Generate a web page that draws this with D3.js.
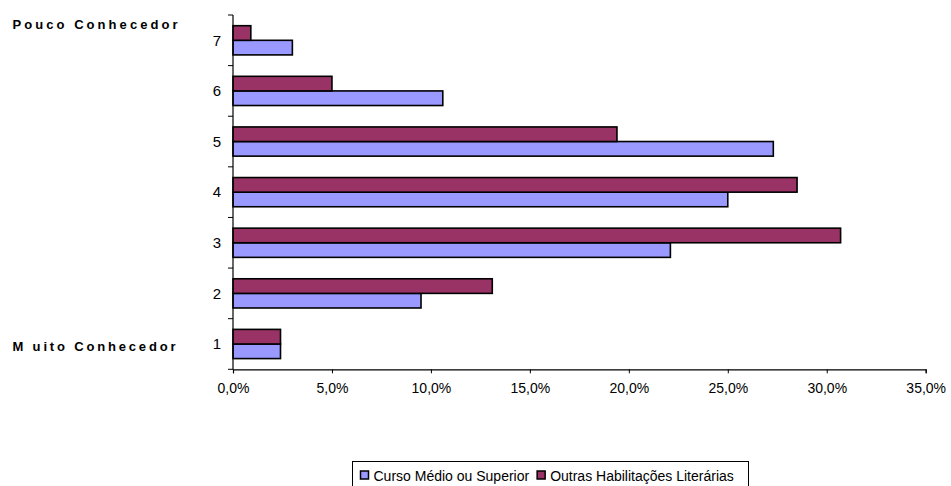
<!DOCTYPE html>
<html lang="pt">
<head>
    <meta charset="UTF-8">
    <title>Conhecimento por habilitações literárias</title>
    <script src="https://d3js.org/d3.v7.min.js" charset="utf-8"></script>
    <style>
        body { margin: 0; background: #fff; }
        svg { display: block; font-family: "Liberation Sans", Arial, sans-serif; }
    </style>
</head>
<body>
<div id="chart"></div>
<script>
    // Data
    var categories = ["1", "2", "3", "4", "5", "6", "7"];
    var seriesNames = ["Curso Médio ou Superior", "Outras Habilitações Literárias"];
    var cursoMedio = [2.4, 9.5, 22.1, 25.0, 27.3, 10.6, 3.0];
    var outras = [2.4, 13.1, 30.7, 28.5, 19.4, 5.0, 0.9];
    var xTicks = [0, 5, 10, 15, 20, 25, 30, 35];
    var colors = ["#9999FF", "#993366"];

    var width = 951, height = 486;

    var svg = d3.select("#chart")
        .append("svg")
        .attr("width", width)
        .attr("height", height);

    // Scales
    var x = d3.scaleLinear()
        .domain([0, 35])
        .range([233, 925.7]);

    var y = d3.scaleBand()
        .domain(categories)
        .range([369.3, 15])
        .padding(0);

    var barH = 14.6;

    // Table built from the arrays
    var rows = categories.map(function(c, i) {
        return { cat: c, values: [cursoMedio[i], outras[i]] };
    });

    // Bars (maroon on top, blue below, within each category)
    var groups = svg.selectAll("g.cat")
        .data(rows)
        .enter()
        .append("g")
        .attr("class", "cat");

    groups.selectAll("rect")
        .data(function(d) {
            return d.values.map(function(v, s) { return { cat: d.cat, v: v, s: s }; });
        })
        .enter()
        .append("rect")
        .attr("x", x(0))
        .attr("y", function(d) {
            var mid = y(d.cat) + y.bandwidth() / 2;
            return d.s === 1 ? mid - barH : mid;
        })
        .attr("width", function(d) { return x(d.v) - x(0); })
        .attr("height", barH)
        .attr("fill", function(d) { return colors[d.s]; })
        .attr("stroke", "#000")
        .attr("stroke-width", 1.6);

    // X axis
    var xAxis = svg.append("g")
        .attr("transform", "translate(0," + 369.3 + ")")
        .call(d3.axisBottom(x)
            .tickValues(xTicks)
            .tickSize(4)
            .tickFormat(function(d) { return d.toFixed(1).replace(".", ",") + "%"; }));
    xAxis.select(".domain").attr("stroke", "#000").attr("stroke-width", 1.2);
    xAxis.selectAll(".tick line").attr("stroke", "#000");
    xAxis.selectAll("text")
        .attr("y", 14)
        .attr("dy", "0.71em")
        .attr("fill", "#000")
        .style("font-size", "14px")
        .style("font-family", "'Liberation Sans', Arial, sans-serif");

    // Y axis: ticks on band boundaries
    var yAxis = svg.append("g")
        .attr("transform", "translate(" + x(0) + ",0)");
    yAxis.append("line")
        .attr("x1", 0).attr("x2", 0)
        .attr("y1", 15).attr("y2", 369.3)
        .attr("stroke", "#000")
        .attr("stroke-width", 1.2);
    var bounds = categories.map(function(c) { return y(c); }).concat([y(categories[0]) + y.bandwidth()]);
    yAxis.selectAll("line.tk")
        .data(bounds)
        .enter()
        .append("line")
        .attr("class", "tk")
        .attr("x1", -5).attr("x2", 0)
        .attr("y1", function(d) { return d; })
        .attr("y2", function(d) { return d; })
        .attr("stroke", "#000");
    yAxis.selectAll("text")
        .data(categories)
        .enter()
        .append("text")
        .attr("x", -12)
        .attr("y", function(d) { return y(d) + y.bandwidth() / 2; })
        .attr("dy", "0.35em")
        .attr("text-anchor", "end")
        .style("font-size", "15px")
        .text(function(d) { return d; });

    // Scale-end labels
    svg.append("text")
        .attr("x", 12.5)
        .attr("y", 29)
        .attr("textLength", 165)
        .attr("lengthAdjust", "spacing")
        .style("font-size", "13px")
        .style("font-weight", "bold")
        .text("Pouco Conhecedor");
    svg.append("text")
        .attr("x", 12.5)
        .attr("y", 351)
        .attr("textLength", 163)
        .attr("lengthAdjust", "spacing")
        .style("font-size", "13px")
        .style("font-weight", "bold")
        .text("M uito Conhecedor");

    // Legend
    var legend = svg.append("g");
    legend.append("rect")
        .attr("x", 352.5)
        .attr("y", 461.5)
        .attr("width", 396)
        .attr("height", 40)
        .attr("fill", "#fff")
        .attr("stroke", "#000")
        .attr("stroke-width", 1);
    var lx = 360.5;
    seriesNames.forEach(function(name, i) {
        legend.append("rect")
            .attr("x", lx)
            .attr("y", 471)
            .attr("width", 8)
            .attr("height", 8)
            .attr("fill", colors[i])
            .attr("stroke", "#000")
            .attr("stroke-width", 1.5);
        var t = legend.append("text")
            .attr("x", lx + 13)
            .attr("y", 480.5)
            .style("font-size", "14px")
            .text(name);
        lx = lx + 13 + t.node().getComputedTextLength() + 8;
    });
</script>
</body>
</html>
